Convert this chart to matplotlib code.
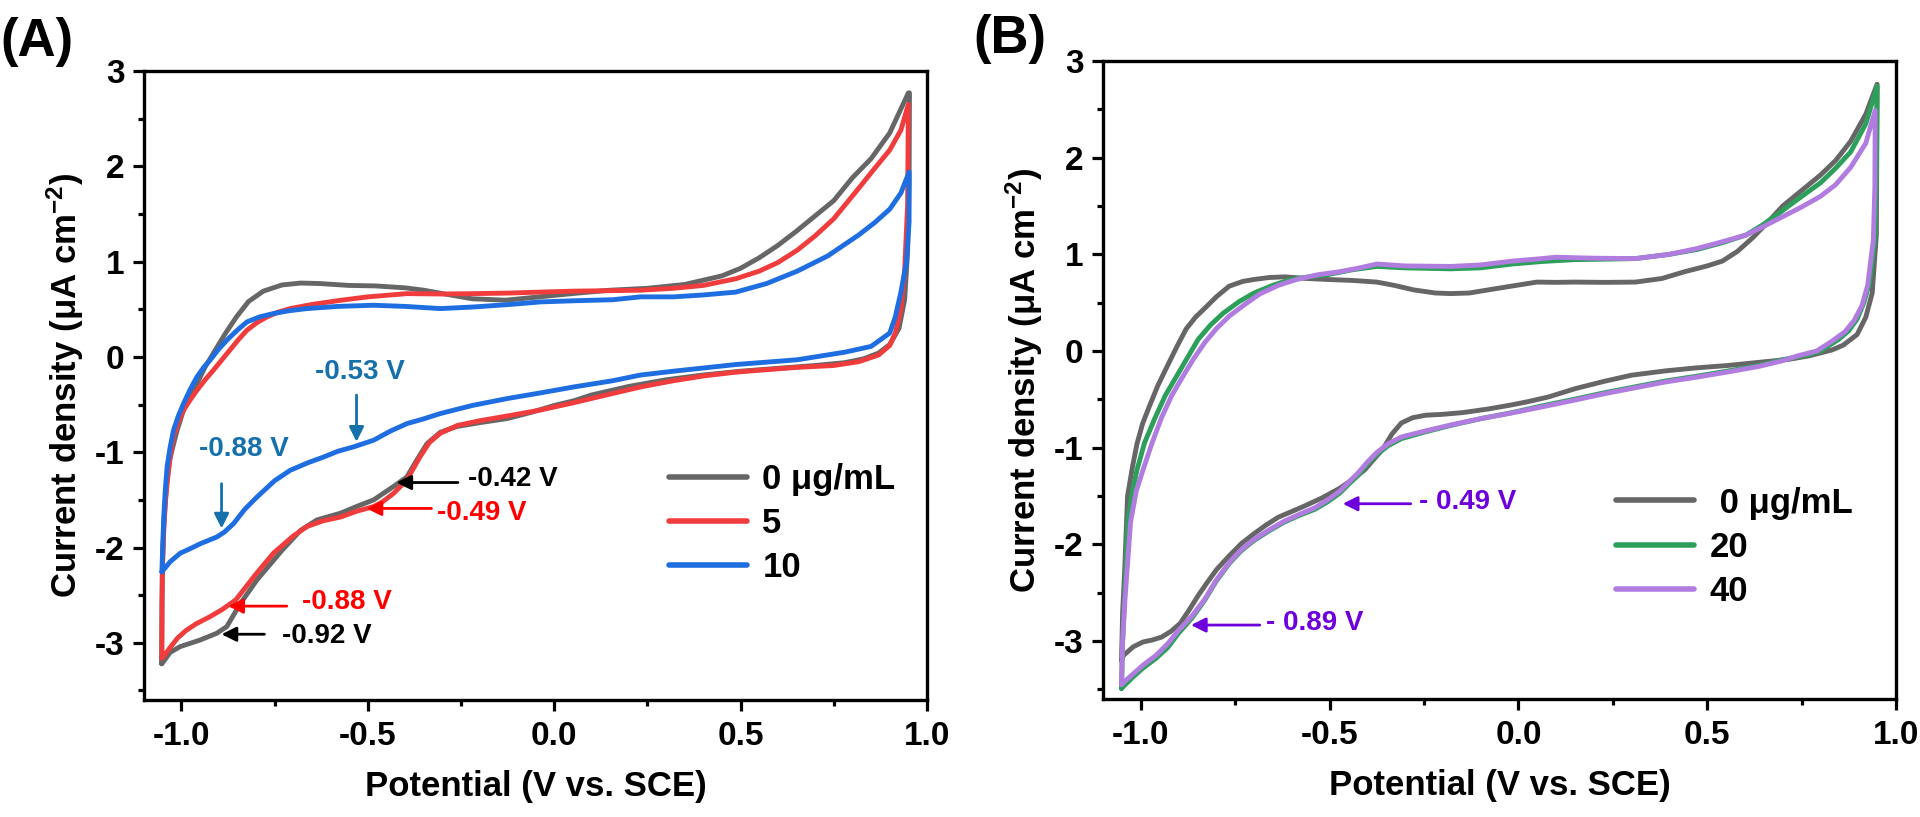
import matplotlib
matplotlib.use("Agg")
import matplotlib.pyplot as plt
from matplotlib.ticker import MultipleLocator
import numpy as np

plt.rcParams['font.family'] = ['Liberation Sans', 'DejaVu Sans']
plt.rcParams['font.weight'] = 'bold'
plt.rcParams['axes.unicode_minus'] = False
plt.rcParams['mathtext.fontset'] = 'custom'
plt.rcParams['mathtext.rm'] = 'Liberation Sans:bold'
plt.rcParams['mathtext.bf'] = 'Liberation Sans:bold'
plt.rcParams['mathtext.it'] = 'Liberation Sans:bold'
plt.rcParams['mathtext.default'] = 'bf'

# ---------------- Panel A data ----------------
a0_up_x = [-1.053, -1.052, -1.05, -1.046, -1.04, -1.032, -1.025, -1.012, -1.0, -0.985, -0.958, -0.936, -0.909,
           -0.882, -0.852, -0.82, -0.78, -0.73, -0.68, -0.63, -0.55, -0.48, -0.40, -0.35, -0.30, -0.22, -0.13,
           -0.04, 0.05, 0.15, 0.25, 0.35, 0.45, 0.50, 0.55, 0.60, 0.65, 0.70, 0.75, 0.80, 0.85, 0.90, 0.95]
a0_up_y = [-3.22, -2.6, -2.1, -1.7, -1.35, -1.1, -0.98, -0.78, -0.63, -0.45, -0.28, -0.105, 0.07,
           0.245, 0.42, 0.58, 0.69, 0.755, 0.775, 0.77, 0.75, 0.745, 0.725, 0.70, 0.665, 0.61, 0.595,
           0.63, 0.665, 0.70, 0.72, 0.76, 0.85, 0.93, 1.04, 1.17, 1.32, 1.48, 1.64, 1.88, 2.08, 2.35, 2.77]
a0_dn_x = [0.953, 0.952, 0.948, 0.94, 0.925, 0.90, 0.87, 0.83, 0.78, 0.70, 0.60, 0.50, 0.40, 0.30, 0.20, 0.10,
           0.053, 0.0, -0.06, -0.126, -0.20, -0.26, -0.305, -0.341, -0.368, -0.395, -0.431, -0.484, -0.53,
           -0.573, -0.636, -0.68, -0.73, -0.797, -0.842, -0.878, -0.905, -0.949, -1.003, -1.03, -1.052]
a0_dn_y = [2.77, 1.8, 1.1, 0.6, 0.3, 0.13, 0.04, -0.02, -0.06, -0.09, -0.12, -0.15, -0.19, -0.24, -0.31, -0.40,
           -0.46, -0.51, -0.58, -0.647, -0.69, -0.73, -0.79, -0.91, -1.08, -1.26, -1.36, -1.50, -1.57,
           -1.64, -1.71, -1.82, -2.03, -2.34, -2.59, -2.83, -2.90, -2.97, -3.04, -3.10, -3.22]

a5_up_x = [-1.052, -1.051, -1.047, -1.042, -1.038, -1.03, -1.021, -1.008, -0.994, -0.976, -0.958, -0.936,
           -0.914, -0.892, -0.87, -0.847, -0.824, -0.797, -0.77, -0.74, -0.708, -0.65, -0.573, -0.50, -0.395,
           -0.30, -0.216, -0.12, -0.037, 0.05, 0.15, 0.232, 0.32, 0.40, 0.487, 0.55, 0.60, 0.652, 0.70, 0.75,
           0.817, 0.86, 0.90, 0.93, 0.95]
a5_up_y = [-3.16, -2.3, -1.8, -1.5, -1.33, -1.05, -0.84, -0.68, -0.56, -0.45, -0.35, -0.24,
           -0.14, -0.035, 0.07, 0.18, 0.28, 0.36, 0.42, 0.47, 0.507, 0.55, 0.594, 0.63, 0.664,
           0.66, 0.664, 0.67, 0.68, 0.69, 0.695, 0.70, 0.72, 0.75, 0.82, 0.90, 0.99, 1.12, 1.27, 1.45,
           1.77, 1.98, 2.17, 2.38, 2.65]
a5_dn_x = [0.95, 0.948, 0.94, 0.93, 0.915, 0.90, 0.87, 0.817, 0.75, 0.652, 0.55, 0.487, 0.40, 0.32, 0.232,
           0.15, 0.053, -0.04, -0.126, -0.20, -0.26, -0.305, -0.335, -0.36, -0.395, -0.43, -0.46, -0.484,
           -0.53, -0.573, -0.62, -0.663, -0.70, -0.753, -0.80, -0.854, -0.89, -0.925, -0.96, -0.987, -1.01,
           -1.03, -1.045, -1.052]
a5_dn_y = [2.65, 1.6, 0.9, 0.5, 0.25, 0.12, 0.02, -0.05, -0.09, -0.11, -0.14, -0.16, -0.2, -0.25, -0.315,
           -0.39, -0.48, -0.56, -0.62, -0.67, -0.72, -0.80, -0.9, -1.05, -1.29, -1.43, -1.52, -1.57,
           -1.62, -1.68, -1.72, -1.78, -1.88, -2.06, -2.28, -2.55, -2.65, -2.73, -2.8, -2.87, -2.95,
           -3.05, -3.13, -3.16]

a10_up_x = [-1.052, -1.05, -1.047, -1.043, -1.038, -1.03, -1.021, -1.008, -0.994, -0.976, -0.958, -0.94,
            -0.922, -0.90, -0.878, -0.85, -0.824, -0.79, -0.753, -0.71, -0.663, -0.58, -0.484, -0.40, -0.305,
            -0.216, -0.12, -0.037, 0.06, 0.157, 0.232, 0.32, 0.40, 0.487, 0.57, 0.652, 0.734, 0.817, 0.86,
            0.90, 0.93, 0.952]
a10_up_y = [-2.255, -2.0, -1.68, -1.4, -1.15, -0.95, -0.77, -0.62, -0.49, -0.34, -0.21, -0.11,
            -0.03, 0.08, 0.175, 0.28, 0.367, 0.42, 0.455, 0.485, 0.507, 0.53, 0.542, 0.53, 0.507,
            0.524, 0.55, 0.577, 0.59, 0.60, 0.63, 0.63, 0.65, 0.68, 0.77, 0.9, 1.06, 1.28, 1.41,
            1.55, 1.72, 1.94]
a10_dn_x = [0.952, 0.952, 0.945, 0.93, 0.915, 0.90, 0.85, 0.78, 0.652, 0.487, 0.32, 0.232, 0.157, 0.053,
            -0.04, -0.126, -0.22, -0.305, -0.35, -0.395, -0.44, -0.484, -0.538, -0.58, -0.618, -0.66,
            -0.708, -0.75, -0.797, -0.83, -0.86, -0.885, -0.905, -0.93, -0.949, -0.975, -1.003, -1.03, -1.052]
a10_dn_y = [1.94, 1.42, 1.0, 0.68, 0.42, 0.25, 0.11, 0.05, -0.03, -0.08, -0.15, -0.19, -0.25, -0.315,
            -0.38, -0.437, -0.51, -0.594, -0.65, -0.70, -0.78, -0.874, -0.944, -0.99, -1.05, -1.11,
            -1.19, -1.3, -1.47, -1.6, -1.75, -1.84, -1.89, -1.93, -1.96, -2.01, -2.06, -2.15, -2.255]

# ---------------- Panel B data ----------------
b0_up_x = [-1.051, -1.048, -1.043, -1.035, -1.022, -1.01, -0.995, -0.978, -0.955, -0.929, -0.905, -0.88,
           -0.855, -0.831, -0.80, -0.766, -0.73, -0.70, -0.66, -0.619, -0.56, -0.505, -0.44, -0.375, -0.33,
           -0.277, -0.22, -0.179, -0.13, -0.08, -0.02, 0.049, 0.10, 0.147, 0.23, 0.31, 0.38, 0.44, 0.50,
           0.54, 0.58, 0.62, 0.66, 0.70, 0.75, 0.80, 0.84, 0.88, 0.92, 0.95]
b0_up_y = [-3.2, -2.7, -2.31, -1.5, -1.2, -0.96, -0.75, -0.58, -0.36, -0.15, 0.04, 0.227,
           0.35, 0.44, 0.56, 0.67, 0.72, 0.74, 0.76, 0.767, 0.75, 0.74, 0.73, 0.713, 0.68,
           0.632, 0.60, 0.594, 0.60, 0.632, 0.67, 0.713, 0.71, 0.713, 0.71, 0.713, 0.75, 0.82, 0.88,
           0.93, 1.03, 1.17, 1.33, 1.5, 1.66, 1.82, 1.97, 2.17, 2.45, 2.76]
b0_dn_x = [0.95, 0.948, 0.937, 0.92, 0.897, 0.86, 0.83, 0.77, 0.717, 0.63, 0.554, 0.47, 0.391, 0.30, 0.228,
           0.15, 0.08, 0.03, -0.016, -0.08, -0.147, -0.20, -0.245, -0.28, -0.31, -0.335, -0.359, -0.385,
           -0.407, -0.44, -0.473, -0.52, -0.57, -0.60, -0.636, -0.668, -0.70, -0.733, -0.766, -0.799,
           -0.825, -0.848, -0.872, -0.896, -0.92, -0.945, -0.97, -0.994, -1.02, -1.046, -1.051]
b0_dn_y = [2.76, 1.2, 0.6, 0.35, 0.17, 0.06, 0.01, -0.05, -0.086, -0.12, -0.15, -0.175, -0.205, -0.25,
           -0.313, -0.39, -0.475, -0.52, -0.556, -0.60, -0.637, -0.655, -0.664, -0.69, -0.745, -0.86,
           -1.015, -1.13, -1.23, -1.33, -1.42, -1.52, -1.61, -1.66, -1.72, -1.80, -1.89, -1.99, -2.12,
           -2.26, -2.40, -2.53, -2.68, -2.82, -2.90, -2.96, -2.99, -3.01, -3.06, -3.15, -3.2]

b20_up_x = [-1.051, -1.048, -1.043, -1.035, -1.022, -1.01, -0.99, -0.962, -0.935, -0.905, -0.875, -0.848,
            -0.815, -0.782, -0.74, -0.70, -0.65, -0.603, -0.55, -0.505, -0.44, -0.375, -0.30, -0.179, -0.10,
            -0.016, 0.06, 0.147, 0.23, 0.31, 0.40, 0.473, 0.54, 0.603, 0.645, 0.685, 0.74, 0.80, 0.84, 0.88,
            0.92, 0.95]
b20_up_y = [-3.49, -3.0, -2.58, -1.77, -1.45, -1.23, -0.95, -0.69, -0.46, -0.26, -0.06, 0.12,
            0.27, 0.39, 0.51, 0.60, 0.68, 0.74, 0.77, 0.79, 0.84, 0.875, 0.86, 0.85, 0.86,
            0.90, 0.925, 0.945, 0.95, 0.956, 1.0, 1.05, 1.12, 1.2, 1.3, 1.41, 1.57, 1.74, 1.89, 2.06,
            2.35, 2.74]
b20_dn_x = [0.95, 0.948, 0.945, 0.93, 0.915, 0.897, 0.875, 0.848, 0.80, 0.766, 0.70, 0.636, 0.55, 0.473,
            0.39, 0.31, 0.23, 0.147, 0.06, -0.016, -0.10, -0.179, -0.25, -0.31, -0.345, -0.375, -0.40, -0.424,
            -0.45, -0.473, -0.505, -0.538, -0.58, -0.62, -0.66, -0.70, -0.735, -0.766, -0.80, -0.831, -0.864,
            -0.90, -0.929, -0.96, -0.994, -1.02, -1.046, -1.051]
b20_dn_y = [2.74, 1.8, 1.2, 0.71, 0.5, 0.33, 0.21, 0.12, 0.0, -0.04, -0.09, -0.15, -0.21, -0.26,
            -0.31, -0.37, -0.43, -0.50, -0.57, -0.637, -0.70, -0.77, -0.84, -0.907, -0.98, -1.07, -1.17,
            -1.285, -1.38, -1.47, -1.56, -1.636, -1.70, -1.77, -1.86, -1.96, -2.07, -2.20, -2.38, -2.58,
            -2.76, -2.92, -3.07, -3.18, -3.28, -3.37, -3.47, -3.49]

b40_up_x = [-1.051, -1.048, -1.042, -1.027, -1.012, -0.994, -0.97, -0.945, -0.918, -0.888, -0.86, -0.83,
            -0.80, -0.766, -0.725, -0.685, -0.635, -0.587, -0.53, -0.473, -0.42, -0.375, -0.30, -0.179, -0.10,
            -0.016, 0.06, 0.098, 0.2, 0.31, 0.40, 0.473, 0.54, 0.603, 0.65, 0.70, 0.75, 0.80, 0.84, 0.88,
            0.92, 0.945]
b40_up_y = [-3.45, -3.0, -2.58, -1.77, -1.45, -1.23, -0.95, -0.69, -0.46, -0.26, -0.08, 0.09,
            0.23, 0.36, 0.48, 0.59, 0.68, 0.74, 0.79, 0.82, 0.86, 0.90, 0.88, 0.875, 0.89,
            0.93, 0.955, 0.97, 0.96, 0.956, 1.0, 1.06, 1.13, 1.2, 1.29, 1.39, 1.49, 1.6, 1.72, 1.9,
            2.15, 2.49]
b40_dn_x = [0.945, 0.944, 0.94, 0.925, 0.91, 0.89, 0.865, 0.83, 0.79, 0.74, 0.70, 0.636, 0.55, 0.473, 0.39,
            0.31, 0.23, 0.147, 0.06, -0.016, -0.10, -0.179, -0.25, -0.31, -0.345, -0.375, -0.40, -0.424,
            -0.45, -0.473, -0.505, -0.538, -0.58, -0.62, -0.66, -0.70, -0.735, -0.766, -0.80, -0.831, -0.864,
            -0.90, -0.929, -0.96, -0.994, -1.02, -1.046, -1.051]
b40_dn_y = [2.49, 1.7, 1.15, 0.68, 0.47, 0.32, 0.2, 0.1, 0.0, -0.05, -0.1, -0.16, -0.22, -0.27, -0.32,
            -0.38, -0.44, -0.51, -0.58, -0.64, -0.70, -0.765, -0.83, -0.89, -0.96, -1.05, -1.15, -1.26,
            -1.36, -1.45, -1.54, -1.62, -1.69, -1.76, -1.85, -1.95, -2.06, -2.19, -2.37, -2.57, -2.74,
            -2.89, -3.03, -3.15, -3.25, -3.34, -3.43, -3.45]

labels_a = ['0 μg/mL', '5', '10']
labels_b = [' 0 μg/mL', '20', '40']
colors_a = ['#666666', '#F03C3C', '#1E6EE1']
colors_b = ['#666666', '#2CA05A', '#B07CE0']

# annotations
ann_a_text = ['-0.53 V', '-0.88 V', '-0.42 V', '-0.49 V', '-0.88 V', '-0.92 V']
ann_a_txy = [(-0.521, -0.16), (-0.831, -0.97), (-0.232, -1.28), (-0.314, -1.64), (-0.675, -2.57), (-0.731, -2.93)]
ann_a_tail = [(-0.53, -0.40), (-0.892, -1.33), (-0.258, -1.318), (-0.329, -1.59), (-0.717, -2.615), (-0.777, -2.91)]
ann_a_head = [(-0.53, -0.89), (-0.892, -1.80), (-0.423, -1.318), (-0.503, -1.59), (-0.874, -2.615), (-0.892, -2.91)]
ann_a_col = ['#1570AC', '#1570AC', '#000000', '#FF0000', '#FF0000', '#000000']
ann_a_ha = ['center', 'center', 'left', 'left', 'left', 'left']

ann_b_text = ['- 0.49 V', '- 0.89 V']
ann_b_txy = [(-0.264, -1.566), (-0.668, -2.81)]
ann_b_tail = [(-0.285, -1.58), (-0.685, -2.835)]
ann_b_head = [(-0.465, -1.58), (-0.867, -2.835)]
ann_b_col = ['#6E00DC', '#6E00DC']

W, H = 1920, 817
fig = plt.figure(figsize=(W / 100, H / 100), dpi=100)

def px_axes(l, t, r, b):
    return fig.add_axes([l / W, 1 - b / H, (r - l) / W, (b - t) / H])

axA = px_axes(144, 71, 927, 700)
axB = px_axes(1103, 61, 1896, 699)

def style(ax):
    ax.set_xlim(-1.1, 1.0)
    ax.set_ylim(-3.6, 3.0)
    ax.xaxis.set_major_locator(MultipleLocator(0.5))
    ax.xaxis.set_minor_locator(MultipleLocator(0.25))
    ax.yaxis.set_major_locator(MultipleLocator(1))
    ax.yaxis.set_minor_locator(MultipleLocator(0.5))
    for s in ax.spines.values():
        s.set_linewidth(2.4)
    ax.tick_params(which='major', direction='out', length=8, width=2.3, labelsize=24, pad=6,
                   top=False, right=False)
    ax.tick_params(which='minor', direction='out', length=4.5, width=2.3, top=False, right=False)
    ax.tick_params(axis='x', which='major', pad=7)
    for lab in ax.get_xticklabels() + ax.get_yticklabels():
        lab.set_fontweight('bold')
    ax.set_xlabel('Potential (V vs. SCE)', fontsize=25, fontweight='bold', labelpad=13)
    ax.set_ylabel(r'Current density (μA cm$^{-2}$)', fontsize=25, fontweight='bold', labelpad=6)

def loop(ux, uy, dx, dy):
    return np.concatenate([ux, dx]), np.concatenate([uy, dy])

seriesA = [(a0_up_x, a0_up_y, a0_dn_x, a0_dn_y), (a5_up_x, a5_up_y, a5_dn_x, a5_dn_y),
           (a10_up_x, a10_up_y, a10_dn_x, a10_dn_y)]
seriesB = [(b0_up_x, b0_up_y, b0_dn_x, b0_dn_y), (b20_up_x, b20_up_y, b20_dn_x, b20_dn_y),
           (b40_up_x, b40_up_y, b40_dn_x, b40_dn_y)]

for ax, series, cols, labs in [(axA, seriesA, colors_a, labels_a), (axB, seriesB, colors_b, labels_b)]:
    style(ax)
    for i, (s, c, l) in enumerate(zip(series, cols, labs)):
        x, y = loop(*s)
        ax.plot(x, y, color=c, lw=3.5, label=l, solid_joinstyle='round', solid_capstyle='round', zorder=2 + i)

legA = axA.legend(loc='upper left', bbox_to_anchor=(0.670, 0.377), frameon=False, fontsize=25,
                  handlelength=2.25, handletextpad=0.45, labelspacing=0.32, borderpad=0, borderaxespad=0)
legB = axB.legend(loc='upper left', bbox_to_anchor=(0.647, 0.333), frameon=False, fontsize=25,
                  handlelength=2.25, handletextpad=0.45, labelspacing=0.32, borderpad=0, borderaxespad=0)
for leg in (legA, legB):
    for t in leg.get_texts():
        t.set_fontweight('bold')
    for ln in leg.get_lines():
        ln.set_linewidth(4)

for txt, txy, tail, head, col, ha in zip(ann_a_text, ann_a_txy, ann_a_tail, ann_a_head, ann_a_col, ann_a_ha):
    axA.annotate('', xy=head, xytext=tail,
                 arrowprops=dict(arrowstyle='-|>', color=col, lw=2, mutation_scale=22, shrinkA=0, shrinkB=0),
                 zorder=10)
    axA.text(txy[0], txy[1], txt, color=col, fontsize=20, fontweight='bold', ha=ha, va='center', zorder=10)

for txt, txy, tail, head, col in zip(ann_b_text, ann_b_txy, ann_b_tail, ann_b_head, ann_b_col):
    axB.annotate('', xy=head, xytext=tail,
                 arrowprops=dict(arrowstyle='-|>', color=col, lw=2, mutation_scale=22, shrinkA=0, shrinkB=0),
                 zorder=10)
    axB.text(txy[0], txy[1], txt, color=col, fontsize=20, fontweight='bold', ha='left', va='center', zorder=10)

fig.text(0.0, 0.948, '(A)', fontsize=38, fontweight='bold', ha='left', va='center')
fig.text(0.507, 0.952, '(B)', fontsize=38, fontweight='bold', ha='left', va='center')

fig.savefig('out.png', dpi=100)
